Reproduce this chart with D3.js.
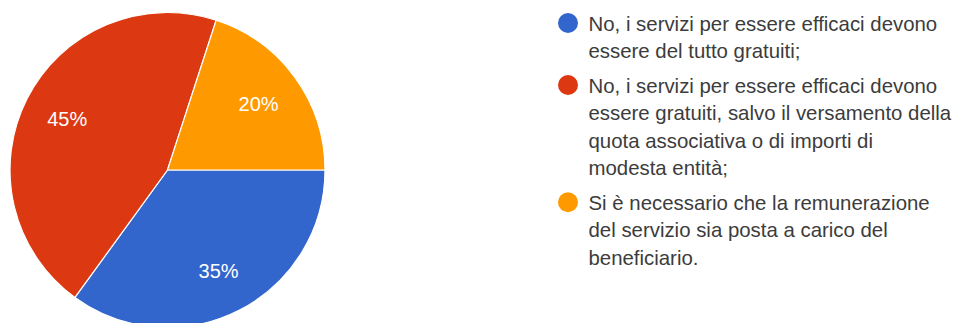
<!DOCTYPE html>
<html>
<head>
<meta charset="utf-8">
<script src="https://cdn.jsdelivr.net/npm/d3@7"></script>
<style>
  html, body { margin: 0; padding: 0; background: #fff; }
  svg { display: block; }
</style>
</head>
<body>
<svg id="chart" width="965" height="323"></svg>
<script>
// Answer options (each legend entry split into its wrapped lines)
const categories = [
  ["No, i servizi per essere efficaci devono", "essere del tutto gratuiti;"],
  ["No, i servizi per essere efficaci devono", "essere gratuiti, salvo il versamento della", "quota associativa o di importi di", "modesta entità;"],
  ["Si è necessario che la remunerazione", "del servizio sia posta a carico del", "beneficiario."]
];
// Share of responses, in percent
const values = [35, 45, 20];
const colors = ["#3366cc", "#dc3912", "#ff9900"];

const svg = d3.select("#chart");
const font = "Arial, 'Liberation Sans', sans-serif";

// Pie
const cx = 167.5, cy = 170, radius = 157.5;
const pie = d3.pie().sort(null).value(d => d)
  .startAngle(Math.PI / 2).endAngle(Math.PI / 2 + 2 * Math.PI);
const arcs = pie(values);
const arc = d3.arc().innerRadius(0).outerRadius(radius);
const labelArc = d3.arc().innerRadius(radius * 0.715).outerRadius(radius * 0.715);

const g = svg.append("g").attr("transform", `translate(${cx},${cy})`);
g.selectAll("path.slice").data(arcs).join("path")
  .attr("class", "slice")
  .attr("d", arc)
  .attr("fill", (d, i) => colors[i])
  .attr("stroke", "#fff")
  .attr("stroke-width", 1.2);

g.selectAll("text.pct").data(arcs).join("text")
  .attr("class", "pct")
  .attr("transform", d => `translate(${labelArc.centroid(d)})`)
  .attr("text-anchor", "middle")
  .attr("dy", "0.36em")
  .attr("fill", "#fff")
  .style("font-family", font)
  .style("font-size", "20px")
  .text(d => d.data + "%");

// Legend
const lineH = 27.6, entryGap = 6.8;
const legend = svg.append("g").attr("transform", "translate(568,23)");
let y = 0;
categories.forEach((lines, i) => {
  const item = legend.append("g").attr("transform", `translate(0,${y})`);
  item.append("circle").attr("r", 10).attr("fill", colors[i]);
  const t = item.append("text")
    .attr("x", 20.5)
    .attr("y", 7.5)
    .attr("fill", "#3c3c3c")
    .style("font-family", font)
    .style("font-size", "20.4px");
  lines.forEach((ln, j) => {
    t.append("tspan").attr("x", 20.5).attr("dy", j === 0 ? 0 : lineH).text(ln);
  });
  y += lines.length * lineH + entryGap;
});
</script>
</body>
</html>
